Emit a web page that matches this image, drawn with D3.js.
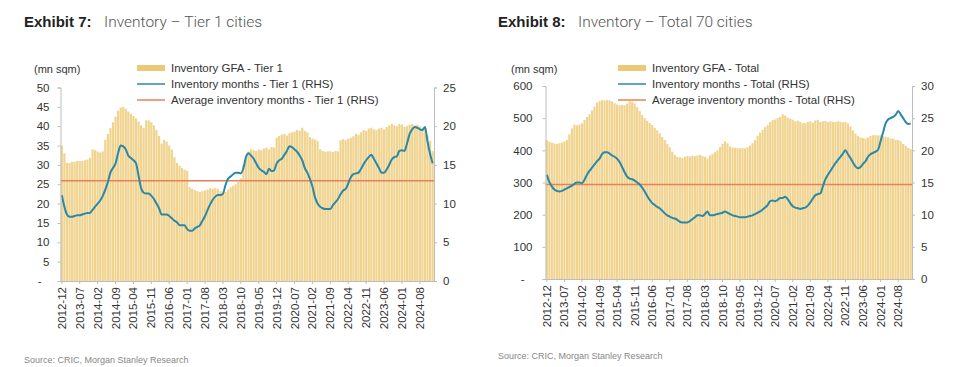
<!DOCTYPE html>
<html lang="en">
  <head>
    <meta charset="UTF-8" />
    <title>Inventory - Tier 1 and Total 70 cities</title>
    <script src="https://d3js.org/d3.v7.min.js"></script>
    <style>
      body {
        margin: 0;
        background: #fff;
      }
      svg {
        display: block;
        font-family: "Liberation Sans", Arial, sans-serif;
      }
    </style>
  </head>
  <body>
    <script>
      // monthly data, 2012-12 .. 2025-01
      const startMonth = new Date(2012, 11, 1);

      const tier1Gfa = [
        35.0, 33.0, 30.5, 30.5, 30.8, 30.8, 31.0, 31.0, 31.0, 31.2, 31.4, 31.8, 34.0, 33.8, 33.5, 33.2, 33.5, 36.5, 38.0, 39.5,
        41.0, 42.5, 44.0, 44.8, 45.0, 44.5, 43.8, 43.2, 42.6, 42.0, 41.2, 40.2, 39.5, 41.5, 41.5, 41.0, 40.2, 39.0, 37.5, 35.5,
        36.5, 36.0, 35.0, 34.0, 32.0, 30.5, 29.8, 29.2, 28.8, 28.5, 24.2, 23.8, 23.5, 23.2, 23.0, 23.2, 23.4, 23.6, 24.0, 23.8,
        24.0, 23.8, 23.2, 22.6, 23.0, 23.6, 24.2, 24.6, 25.0, 25.6, 26.5, 30.0, 32.5, 33.5, 34.0, 33.8, 33.6, 34.0, 33.8, 34.2,
        34.5, 34.0, 34.6, 34.5, 37.0, 37.5, 37.8, 38.0, 37.6, 38.2, 38.4, 38.6, 39.0, 38.8, 39.6, 38.8, 38.4, 37.2, 36.8, 36.5,
        36.2, 34.0, 33.6, 33.4, 33.5, 33.5, 33.3, 33.6, 33.5, 36.4, 36.6, 36.4, 36.8, 37.0, 37.4, 38.0, 37.8, 38.4, 39.0, 38.8,
        39.4, 39.6, 39.2, 39.0, 39.4, 39.6, 39.2, 39.8, 40.2, 40.6, 40.2, 40.0, 40.6, 40.4, 39.8, 40.0, 40.4, 40.6, 40.2, 40.4,
        40.0, 39.6, 39.4, 37.6, 36.2, 33.6
      ];
      const tier1Months = [
        11.1, 9.6, 8.6, 8.3, 8.3, 8.4, 8.5, 8.5, 8.6, 8.7, 8.8, 8.8, 9.2, 9.6, 10.0, 10.4, 11.0, 11.8, 12.8, 14.0,
        14.6, 15.2, 16.5, 17.5, 17.4, 17.0, 16.2, 15.9, 15.6, 15.2, 13.6, 12.0, 11.4, 11.3, 11.3, 11.0, 10.6, 10.0, 9.4, 8.6,
        8.6, 8.6, 8.4, 8.1, 7.8, 7.6, 7.2, 7.2, 7.2, 6.7, 6.5, 6.5, 6.8, 7.0, 7.2, 7.8, 8.4, 9.2, 9.9, 10.5,
        10.9, 11.1, 11.1, 11.3, 12.4, 13.2, 13.5, 13.8, 14.0, 14.0, 13.9, 14.6, 16.0, 16.5, 16.2, 15.8, 15.2, 14.6, 14.3, 14.1,
        13.8, 14.5, 14.2, 14.3, 15.2, 15.6, 15.8, 16.3, 16.8, 17.4, 17.3, 17.0, 16.7, 16.2, 15.6, 14.6, 14.0, 13.2, 12.2, 10.8,
        10.0, 9.6, 9.4, 9.3, 9.3, 9.3, 9.8, 10.2, 10.6, 11.2, 11.7, 11.9, 12.6, 13.4, 13.8, 13.9, 14.0, 14.5, 15.1, 15.6,
        16.0, 16.3, 15.8, 15.2, 14.6, 14.0, 14.0, 14.4, 15.0, 15.7, 16.0, 16.1, 16.8, 16.9, 16.8, 17.8, 19.0, 19.6, 19.9, 19.8,
        19.6, 19.5, 19.9, 18.0, 16.4, 15.2
      ];
      const tier1Average = 12.95;

      const totalGfa = [
        432, 427, 424, 421, 420, 422, 424, 428, 432, 450, 468, 480, 478, 480, 484, 494, 504, 512, 524, 536,
        548, 553, 556, 555, 556, 555, 552, 546, 542, 540, 541, 540, 545, 553, 550, 546, 534, 522, 510, 500,
        492, 485, 479, 470, 462, 453, 442, 432, 420, 410, 396, 386, 380, 378, 376, 380, 382, 381, 383, 382,
        384, 386, 383, 380, 374, 384, 388, 394, 400, 410, 420, 428, 422, 412, 409, 408, 407, 406, 407, 406,
        410, 415, 422, 432, 445, 455, 463, 472, 478, 488, 494, 496, 500, 504, 512, 508, 502, 498, 495, 490,
        492, 488, 484, 485, 488, 490, 486, 493, 495, 488, 490, 491, 488, 490, 489, 488, 490, 489, 487, 488,
        484, 474, 462, 452, 444, 440, 438, 437, 440, 445, 447, 447, 446, 447, 444, 442, 440, 437, 436, 433,
        432, 428, 420, 414, 408, 404
      ];
      const totalMonths = [
        16.2, 15.1, 14.4, 13.9, 13.7, 13.6, 13.7, 13.9, 14.1, 14.3, 14.5, 14.8, 15.0, 15.0, 14.9, 15.4, 16.2, 16.8, 17.3, 17.8,
        18.3, 18.7, 19.4, 19.7, 19.7, 19.5, 19.2, 19.0, 18.7, 18.2, 17.4, 16.6, 15.9, 15.6, 15.5, 15.3, 15.0, 14.7, 14.2, 13.6,
        12.9, 12.3, 11.8, 11.5, 11.2, 11.0, 10.6, 10.2, 9.9, 9.7, 9.5, 9.4, 9.2, 8.9, 8.8, 8.8, 8.8, 9.0, 9.3, 9.6,
        9.9, 9.9, 9.8, 10.1, 10.5, 9.9, 9.9, 10.0, 10.1, 10.2, 10.3, 10.5, 10.3, 10.1, 9.9, 9.8, 9.7, 9.6, 9.6, 9.6,
        9.7, 9.8, 9.9, 10.1, 10.3, 10.5, 10.8, 11.1, 11.5, 12.1, 12.2, 12.1, 12.3, 12.6, 12.6, 12.8, 12.4, 11.8, 11.3, 11.1,
        11.0, 10.9, 11.0, 11.1, 11.4, 11.9, 12.5, 13.0, 13.2, 13.3, 14.4, 15.5, 16.2, 16.8, 17.4, 18.0, 18.5, 19.0, 19.5, 20.0,
        19.4, 18.8, 18.1, 17.5, 17.2, 17.4, 17.9, 18.3, 19.0, 19.4, 19.6, 19.8, 20.1, 21.4, 22.8, 24.2, 24.8, 25.0, 25.2, 25.5,
        26.1, 25.6, 25.0, 24.4, 24.1, 24.2
      ];
      const totalAverage = 14.7;

      const tier1LeftTicks = [0, 5, 10, 15, 20, 25, 30, 35, 40, 45, 50];
      const tier1RightTicks = [0, 5, 10, 15, 20, 25];
      const totalLeftTicks = [0, 100, 200, 300, 400, 500, 600];
      const totalRightTicks = [0, 5, 10, 15, 20, 25, 30];

      const fmtMonth = d3.timeFormat("%Y-%m");
      const months = tier1Gfa.map((_, i) => fmtMonth(d3.timeMonth.offset(startMonth, i)));
      const tickMonths = months.filter((_, i) => i % 7 === 0 && i <= 140);

      const W = 960, H = 367;
      const svg = d3.select("body").append("svg").attr("width", W).attr("height", H);

      const barColor = "#F0D38E";
      const lineColor = "#2A88A8";
      const avgColor = "#E9805A";
      const axisColor = "#BDBDBD";
      const textColor = "#333";

      function drawChart(cfg) {
        const g = svg.append("g");

        // title
        g.append("text")
          .attr("x", cfg.titleX)
          .attr("y", 27)
          .style("font-size", "15px")
          .attr("font-weight", "bold")
          .attr("fill", "#222")
          .text(cfg.exhibit);
        g.append("text")
          .attr("x", cfg.subX)
          .attr("y", 27)
          .style("font-family", "Roboto, sans-serif")
          .style("font-weight", 300)
          .style("font-size", "15.5px")
          .attr("fill", "#555")
          .text(cfg.subtitle);

        const x = d3.scaleBand().domain(months).range([cfg.x0, cfg.x1]).paddingInner(0.15).paddingOuter(0.1);
        const yL = d3.scaleLinear().domain([0, cfg.leftMax]).range([cfg.y0, cfg.y1]);
        const yR = d3.scaleLinear().domain([0, cfg.rightMax]).range([cfg.y0, cfg.y1]);

        // bars
        g.append("g")
          .selectAll("rect")
          .data(cfg.gfa)
          .join("rect")
          .attr("x", (d, i) => x(months[i]))
          .attr("width", x.bandwidth())
          .attr("y", (d) => yL(d))
          .attr("height", (d) => yL(0) - yL(d))
          .attr("fill", barColor);

        // average line
        g.append("line")
          .attr("x1", cfg.x0)
          .attr("x2", cfg.x1)
          .attr("y1", yR(cfg.average))
          .attr("y2", yR(cfg.average))
          .attr("stroke", avgColor)
          .attr("stroke-width", 1.6);

        // months line
        const line = d3
          .line()
          .x((d, i) => x(months[i]) + x.bandwidth() / 2)
          .y((d) => yR(d))
          .curve(d3.curveMonotoneX);
        g.append("path")
          .datum(cfg.months)
          .attr("d", line)
          .attr("fill", "none")
          .attr("stroke", lineColor)
          .attr("stroke-width", 2);

        // left axis
        const axL = g
          .append("g")
          .attr("transform", `translate(${cfg.x0},0)`)
          .call(
            d3.axisLeft(yL)
              .tickValues(cfg.leftTicks)
              .tickSize(3)
              .tickPadding(cfg.leftPad)
              .tickFormat((d) => (d === 0 ? "-" : d))
          );
        axL.selectAll(".tick text").filter((d) => d === 0).attr("dx", -8);
        // right axis
        const axR = g
          .append("g")
          .attr("transform", `translate(${cfg.x1},0)`)
          .call(d3.axisRight(yR).tickValues(cfg.rightTicks).tickSize(3).tickPadding(6));
        // bottom axis
        const axB = g
          .append("g")
          .attr("transform", `translate(0,${cfg.y0})`)
          .call(d3.axisBottom(x).tickValues(tickMonths).tickSize(3).tickSizeOuter(0));
        axB.selectAll("text")
          .attr("transform", "rotate(-90)")
          .attr("text-anchor", "end")
          .attr("x", -6)
          .attr("y", 0)
          .attr("dy", "0.35em");

        [axL, axR, axB].forEach((a) => {
          a.selectAll(".domain").attr("stroke", axisColor);
          a.selectAll(".tick line").attr("stroke", axisColor);
          a.selectAll("text").attr("fill", textColor).style("font-size", "11.5px").style("font-family", "Liberation Sans, Arial, sans-serif");
        });
        axB.selectAll("text").style("font-size", "11.5px");

        // unit label
        g.append("text")
          .attr("x", cfg.unitX)
          .attr("y", 73)
          .attr("fill", textColor)
          .style("font-size", "11px")
          .text("(mn sqm)");

        // legend
        const lg = g.append("g").attr("transform", `translate(${cfg.legendX},0)`);
        lg.append("rect").attr("x", 0).attr("y", 65).attr("width", 28).attr("height", 6).attr("fill", "#EBC977");
        lg.append("line").attr("x1", 0).attr("x2", 28).attr("y1", 84).attr("y2", 84).attr("stroke", lineColor).attr("stroke-width", 1.5);
        lg.append("line").attr("x1", 0).attr("x2", 28).attr("y1", 100).attr("y2", 100).attr("stroke", avgColor).attr("stroke-width", 1.5);
        cfg.legendLabels.forEach((t, i) => {
          lg.append("text")
            .attr("x", 34)
            .attr("y", 72 + i * 16)
            .attr("fill", textColor)
            .style("font-size", "11.5px")
            .text(t);
        });

        // source
        g.append("text")
          .attr("x", cfg.sourceX)
          .attr("y", cfg.sourceY)
          .attr("fill", "#888")
          .style("font-size", "9px")
          .text("Source: CRIC, Morgan Stanley Research");
      }

      drawChart({
        exhibit: "Exhibit 7:",
        subtitle: "Inventory \u2013 Tier 1 cities",
        titleX: 24,
        subX: 104,
        x0: 60.5,
        x1: 434,
        y0: 281,
        y1: 87.5,
        leftMax: 50,
        rightMax: 25,
        leftTicks: tier1LeftTicks,
        rightTicks: tier1RightTicks,
        leftPad: 8,
        gfa: tier1Gfa,
        months: tier1Months,
        average: tier1Average,
        unitX: 34,
        legendX: 137,
        legendLabels: ["Inventory GFA - Tier 1", "Inventory months - Tier 1 (RHS)", "Average inventory months - Tier 1 (RHS)"],
        sourceX: 24,
        sourceY: 363
      });

      drawChart({
        exhibit: "Exhibit 8:",
        subtitle: "Inventory \u2013 Total 70 cities",
        titleX: 498,
        subX: 578,
        x0: 545.5,
        x1: 912,
        y0: 279,
        y1: 86,
        leftMax: 600,
        rightMax: 30,
        leftTicks: totalLeftTicks,
        rightTicks: totalRightTicks,
        leftPad: 10,
        gfa: totalGfa,
        months: totalMonths,
        average: totalAverage,
        unitX: 511,
        legendX: 618,
        legendLabels: ["Inventory GFA - Total", "Inventory months - Total (RHS)", "Average inventory months - Total (RHS)"],
        sourceX: 498,
        sourceY: 359
      });
    </script>
  </body>
</html>
